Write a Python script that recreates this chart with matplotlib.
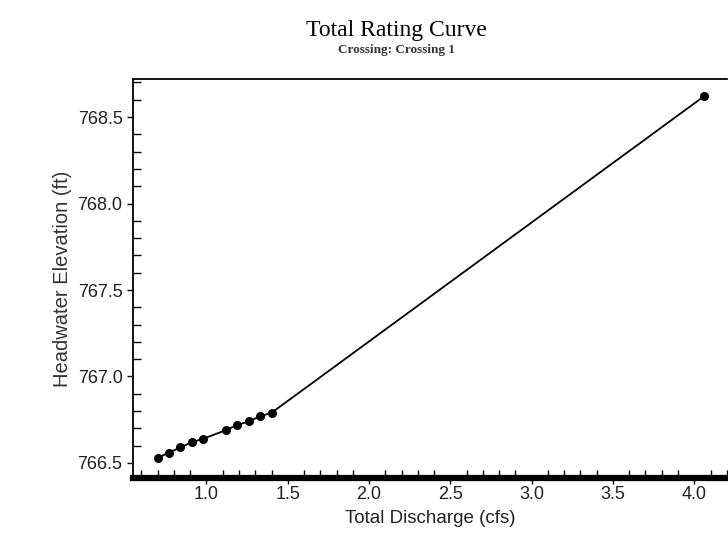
import numpy as np
import matplotlib
matplotlib.use('Agg')
import matplotlib.pyplot as plt
from matplotlib.ticker import MultipleLocator, FormatStrFormatter

# rating curve points
discharge = [0.70, 0.77, 0.84, 0.91, 0.98, 1.12, 1.19, 1.26, 1.33, 1.40, 4.06]
elevation = [766.53, 766.56, 766.59, 766.62, 766.64, 766.69, 766.72, 766.74, 766.77, 766.79, 768.62]

fig = plt.figure(figsize=(7.28, 5.40), dpi=100)
ax = fig.add_axes([0.1827, 0.1148, 0.8163, 0.7389])

ax.plot(discharge, elevation, color='black', lw=1.3, marker='o', ms=5.5)

ax.set_xlim(0.548, 4.203)
ax.set_ylim(766.413, 768.72)

ax.xaxis.set_major_locator(MultipleLocator(0.5))
ax.xaxis.set_minor_locator(MultipleLocator(0.1))
ax.yaxis.set_major_locator(MultipleLocator(0.5))
ax.yaxis.set_minor_locator(MultipleLocator(0.1))
ax.xaxis.set_major_formatter(FormatStrFormatter('%.1f'))
ax.yaxis.set_major_formatter(FormatStrFormatter('%.1f'))

ax.tick_params(which='major', direction='out', length=4.5, width=1, labelsize=13,
               colors='black', labelcolor='#222222')
ax.tick_params(which='minor', direction='in', length=5.5, width=1)
ax.tick_params(axis='x', which='major', pad=1)
ax.tick_params(axis='y', which='major', pad=3)

for s in ['left', 'top']:
    ax.spines[s].set_linewidth(1.3)
ax.spines['bottom'].set_linewidth(4.5)
ax.spines['right'].set_visible(False)

for lab in ax.get_xticklabels() + ax.get_yticklabels():
    lab.set_family('Liberation Sans')

ax.set_xlabel('Total Discharge (cfs)', fontsize=13.5, family='Liberation Sans',
              color='#222222', labelpad=5)
ax.set_ylabel('Headwater Elevation (ft)', fontsize=14.5, family='Liberation Sans',
              color='#333333', labelpad=4)

fig.text(0.544, 0.944, 'Total Rating Curve', ha='center', va='center',
         fontsize=17, family='Liberation Serif')
fig.text(0.544, 0.908, 'Crossing: Crossing 1', ha='center', va='center',
         fontsize=9.5, family='Liberation Serif', weight='bold', color='#333333')

fig.savefig('out.png', dpi=100)
